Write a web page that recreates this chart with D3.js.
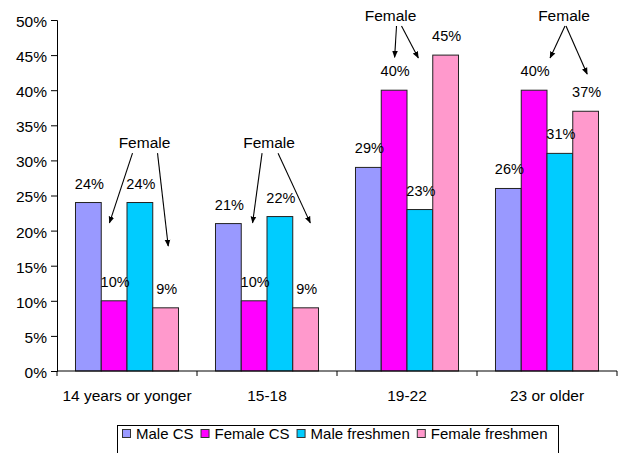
<!DOCTYPE html>
<html>
<head>
<meta charset="utf-8">
<script src="https://cdn.jsdelivr.net/npm/d3@7"></script>
<style>
  html, body { margin: 0; padding: 0; background: #fff; }
  svg { display: block; font-family: Arial, "Liberation Sans", sans-serif; }
</style>
</head>
<body>
<svg id="chart" width="623" height="453"></svg>
<script>
// Age groups on the x axis
const categories = ["14 years or yonger", "15-18", "19-22", "23 or older"];
// Series shown in each group
const seriesNames = ["Male CS", "Female CS", "Male freshmen", "Female freshmen"];
const seriesColors = ["#9999FF", "#FF00FF", "#00CCFF", "#FF99CC"];
// Percent values per series, one per age group
const maleCS = [24, 21, 29, 26];
const femaleCS = [10, 10, 40, 40];
const maleFreshmen = [24, 22, 23, 31];
const femaleFreshmen = [9, 9, 45, 37];
// Y axis ticks (percent)
const yTicks = [0, 5, 10, 15, 20, 25, 30, 35, 40, 45, 50];

// "Female" callouts: label position (fraction across the bar group, value),
// and arrows pointing into the group (fraction across group, value).
const calloutText = "Female";
const calloutPos = [[0.67, 32.6], [0.52, 32.6], [0.34, 50.7], [0.665, 50.7]];
const calloutStartDx = [[-12, 13], [-7, 9], [6, 11], [1, 2]];
const calloutTargets = [
  [[0.33, 21.1], [0.90, 17.8]],
  [[0.36, 21.1], [0.92, 21.1]],
  [[0.38, 44.7], [0.61, 44.6]],
  [[0.53, 44.6], [0.89, 42.3]]
];

const seriesValues = [maleCS, femaleCS, maleFreshmen, femaleFreshmen];

const svg = d3.select("#chart");
const plotLeft = 57, plotRight = 617, plotTop = 20, plotBottom = 371;
const fontSize = 15.5;

const x0 = d3.scaleBand().domain(categories).range([plotLeft, plotRight]).padding(0);
const x1 = d3.scaleBand().domain(seriesNames).range([0, x0.bandwidth()])
  .paddingInner(0).paddingOuter(0.718);
const y = d3.scaleLinear().domain([0, 50]).range([plotBottom, plotTop]);

const groupStart = c => x0(c) + x1(seriesNames[0]);
const groupWidth = x1.bandwidth() * seriesNames.length;

// Y axis
const yAxis = svg.append("g").attr("transform", `translate(${plotLeft},0)`)
  .call(d3.axisLeft(y).tickValues(yTicks).tickFormat(d => d + "%").tickSize(6).tickPadding(4));
yAxis.select(".domain").attr("stroke", "#000");
yAxis.selectAll(".tick line").attr("stroke", "#000");
yAxis.selectAll("text").attr("font-size", fontSize).attr("fill", "#000")
  .attr("font-family", "Arial, 'Liberation Sans', sans-serif")
  .attr("y", 1.5);

// Bars
const groups = svg.append("g").selectAll("g").data(categories).join("g")
  .attr("transform", c => `translate(${x0(c)},0)`);

groups.selectAll("rect")
  .data((c, i) => seriesNames.map((s, j) => ({ s, j, v: seriesValues[j][i] })))
  .join("rect")
  .attr("x", d => x1(d.s))
  .attr("y", d => y(d.v))
  .attr("width", x1.bandwidth())
  .attr("height", d => y(0) - y(d.v))
  .attr("fill", d => seriesColors[d.j])
  .attr("stroke", "#222")
  .attr("stroke-width", 1);

// Value labels
groups.selectAll("text.val")
  .data((c, i) => seriesNames.map((s, j) => ({ s, j, v: seriesValues[j][i] })))
  .join("text")
  .attr("class", "val")
  .attr("x", d => x1(d.s) + x1.bandwidth() / 2 + 1)
  .attr("y", d => y(d.v) - 14)
  .attr("text-anchor", "middle")
  .attr("font-size", 14.5)
  .attr("fill", "#000")
  .text(d => d.v + "%");

// X axis
const xAxis = svg.append("g").attr("transform", `translate(0,${plotBottom})`);
xAxis.append("line").attr("x1", plotLeft).attr("x2", plotRight).attr("stroke", "#000");
const boundaries = categories.map(c => x0(c)).concat([plotRight]);
xAxis.selectAll("line.tick").data(boundaries).join("line")
  .attr("class", "tick")
  .attr("x1", d => d).attr("x2", d => d)
  .attr("y1", 0).attr("y2", 5).attr("stroke", "#000");
xAxis.selectAll("text").data(categories).join("text")
  .attr("x", c => x0(c) + x0.bandwidth() / 2)
  .attr("y", 30)
  .attr("text-anchor", "middle")
  .attr("font-size", fontSize)
  .attr("fill", "#000")
  .text(c => c);

// Callouts
const defs = svg.append("defs");
defs.append("marker").attr("id", "arrow")
  .attr("viewBox", "0 0 10 10").attr("refX", 9).attr("refY", 5)
  .attr("markerWidth", 7).attr("markerHeight", 7)
  .attr("markerUnits", "userSpaceOnUse")
  .attr("orient", "auto")
  .append("path").attr("d", "M0,1 L10,5 L0,9 Z").attr("fill", "#000");

const callouts = svg.append("g");
categories.forEach((c, i) => {
  const lx = groupStart(c) + calloutPos[i][0] * groupWidth;
  const ly = y(calloutPos[i][1]);
  callouts.append("text")
    .attr("x", lx).attr("y", ly).attr("dy", "0.35em")
    .attr("text-anchor", "middle").attr("font-size", fontSize).attr("fill", "#000")
    .text(calloutText);
  calloutTargets[i].forEach((t, k) => {
    callouts.append("line")
      .attr("x1", lx + calloutStartDx[i][k]).attr("y1", ly + 11)
      .attr("x2", groupStart(c) + t[0] * groupWidth).attr("y2", y(t[1]))
      .attr("stroke", "#000").attr("stroke-width", 1.1)
      .attr("marker-end", "url(#arrow)");
  });
});

// Legend
const legend = svg.append("g");
const lgX = 117, lgY = 425, lgW = 441, lgH = 30;
legend.append("rect").attr("x", lgX + 0.5).attr("y", lgY + 0.5)
  .attr("width", lgW).attr("height", lgH)
  .attr("fill", "#fff").attr("stroke", "#000");
let cx = lgX + 5;
seriesNames.forEach((s, j) => {
  legend.append("rect").attr("x", cx + 0.5).attr("y", lgY + 4.5)
    .attr("width", 8).attr("height", 8)
    .attr("fill", seriesColors[j]).attr("stroke", "#333");
  const t = legend.append("text").attr("x", cx + 14).attr("y", lgY + 14)
    .attr("font-size", 15).attr("fill", "#000").text(s);
  cx += 14 + t.node().getComputedTextLength() + 7;
});
</script>
</body>
</html>
